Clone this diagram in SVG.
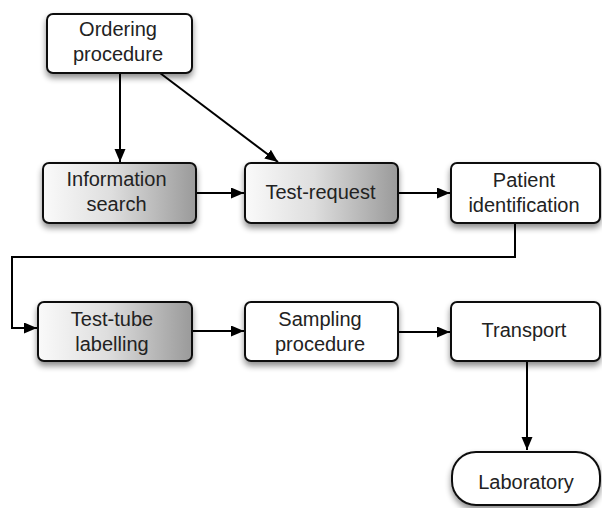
<svg xmlns="http://www.w3.org/2000/svg" width="602" height="508" viewBox="0 0 602 508">
<defs>
<linearGradient id="grad" x1="0" y1="0" x2="1" y2="0">
<stop offset="0" stop-color="#fafafa"/>
<stop offset="0.45" stop-color="#dedede"/>
<stop offset="1" stop-color="#9a9a9a"/>
</linearGradient>
<filter id="shadow" x="-10%" y="-20%" width="120%" height="150%">
<feGaussianBlur in="SourceAlpha" stdDeviation="3"/>
<feOffset dx="0" dy="4" result="b"/>
<feComponentTransfer><feFuncA type="linear" slope="0.45"/></feComponentTransfer>
<feMerge><feMergeNode/><feMergeNode in="SourceGraphic"/></feMerge>
</filter>
<marker id="arrow" markerUnits="userSpaceOnUse" markerWidth="14" markerHeight="12" refX="13" refY="5.5" orient="auto">
<path d="M0,0 L13,5.5 L0,11 z" fill="#000"/>
</marker>
</defs>
<style>
.box{fill:#fff;stroke:#111;stroke-width:2;filter:url(#shadow)}
.g{fill:url(#grad)}
.t{font-family:"Liberation Sans",Arial,sans-serif;font-size:20px;fill:#222;text-anchor:middle}
.c{fill:none;stroke:#000;stroke-width:2;marker-end:url(#arrow)}
</style>
<rect width="602" height="508" fill="#fff"/>
<g id="connectors">
<line class="c" x1="120" y1="73" x2="120" y2="162"/>
<line class="c" x1="160" y1="73" x2="278" y2="162"/>
<line class="c" x1="196" y1="193" x2="244" y2="193"/>
<line class="c" x1="398" y1="193" x2="450" y2="193"/>
<path class="c" d="M515,223 V257 H12 V328 H37"/>
<line class="c" x1="192" y1="331" x2="244" y2="331"/>
<line class="c" x1="398" y1="332" x2="450" y2="332"/>
<line class="c" x1="527" y1="361" x2="527" y2="450"/>
</g>
<g id="ordering">
<rect class="box" x="47" y="14" width="145" height="59" rx="6"/>
<text class="t" x="118" y="36">Ordering</text>
<text class="t" x="118" y="61">procedure</text>
</g>
<g id="information-search">
<rect class="box g" x="43" y="163" width="153" height="60" rx="6"/>
<text class="t" x="116.5" y="186">Information</text>
<text class="t" x="116.5" y="211">search</text>
</g>
<g id="test-request">
<rect class="box g" x="245" y="163" width="153" height="60" rx="6"/>
<text class="t" x="320.5" y="199">Test-request</text>
</g>
<g id="patient-identification">
<rect class="box" x="451" y="163" width="149" height="60" rx="6"/>
<text class="t" x="524" y="187">Patient</text>
<text class="t" x="524" y="212">identification</text>
</g>
<g id="test-tube-labelling">
<rect class="box g" x="38" y="302" width="154" height="59" rx="6"/>
<text class="t" x="112" y="326">Test-tube</text>
<text class="t" x="112" y="351">labelling</text>
</g>
<g id="sampling-procedure">
<rect class="box" x="245" y="302" width="153" height="59" rx="6"/>
<text class="t" x="320" y="326">Sampling</text>
<text class="t" x="320" y="351">procedure</text>
</g>
<g id="transport">
<rect class="box" x="451" y="302" width="149" height="59" rx="6"/>
<text class="t" x="524" y="337">Transport</text>
</g>
<g id="laboratory">
<rect class="box" x="452" y="452" width="148" height="53" rx="24"/>
<text class="t" x="526" y="489">Laboratory</text>
</g>
</svg>
